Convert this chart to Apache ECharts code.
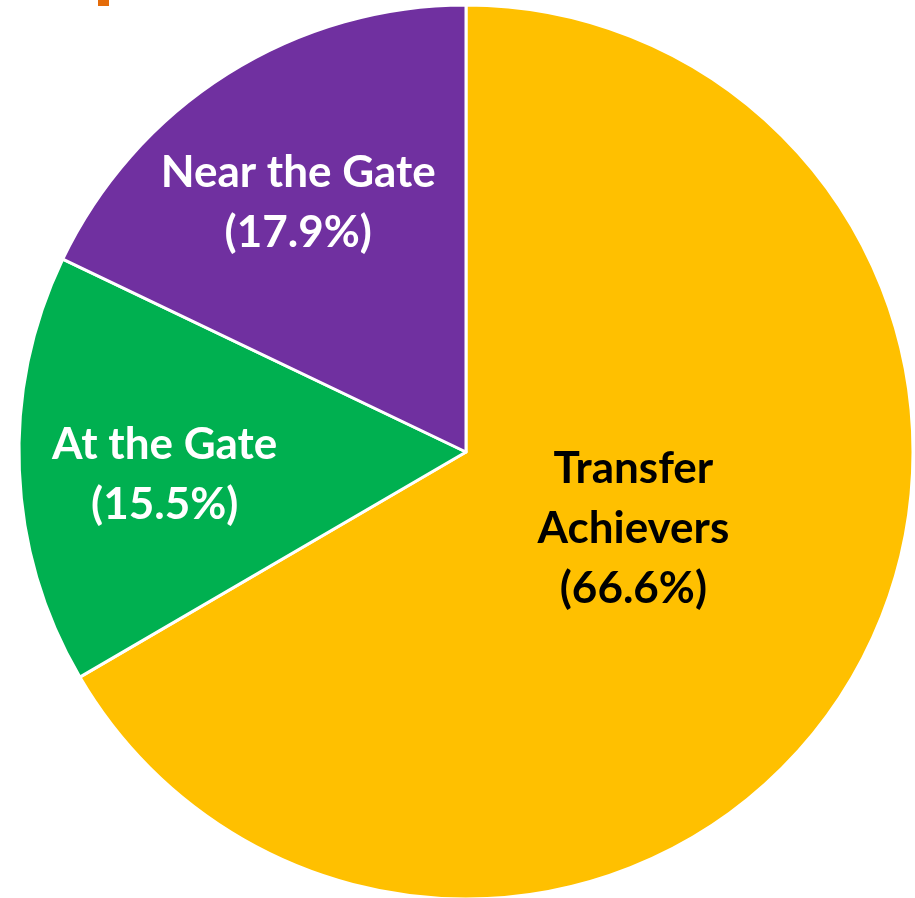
<!DOCTYPE html>
<html><head><meta charset="utf-8">
<script src="https://cdn.jsdelivr.net/npm/echarts@6/dist/echarts.min.js"></script>
<style>html,body{margin:0;padding:0;background:#fff}#c{width:915px;height:898px}</style>
</head><body><div id="c"></div>
<script>
const categories = ['Transfer\nAchievers', 'At the Gate', 'Near the Gate'];
const values = [66.6, 15.5, 17.9];
const colors = ['#FFC000', '#00B050', '#7030A0'];
const labelColors = ['#000000', '#FFFFFF', '#FFFFFF'];
const labelOffsets = [[-29, -36], [-75, 14], [-47, -58]];

const chart = echarts.init(document.getElementById('c'));
chart.setOption({
  animation: false,
  graphic: [{ type: 'rect', shape: { x: 98, y: 0, width: 11, height: 6 }, style: { fill: '#E46C0A' } }],
  series: [{
    type: 'pie',
    center: [466, 452],
    radius: [0, 447],
    startAngle: 90,
    clockwise: true,
    itemStyle: { borderColor: '#fff', borderWidth: 3 },
    label: {
      show: true, position: 'inside',
      fontFamily: 'Lato', fontWeight: 'bold', fontSize: 44, lineHeight: 60, align: 'center'
    },
    labelLine: { show: false },
    data: categories.map((c, i) => ({
      name: c, value: values[i],
      itemStyle: { color: colors[i] },
      label: {
        color: labelColors[i], offset: labelOffsets[i],
        formatter: c + '\n(' + values[i].toFixed(1) + '%)'
      }
    }))
  }]
});
</script></body></html>
